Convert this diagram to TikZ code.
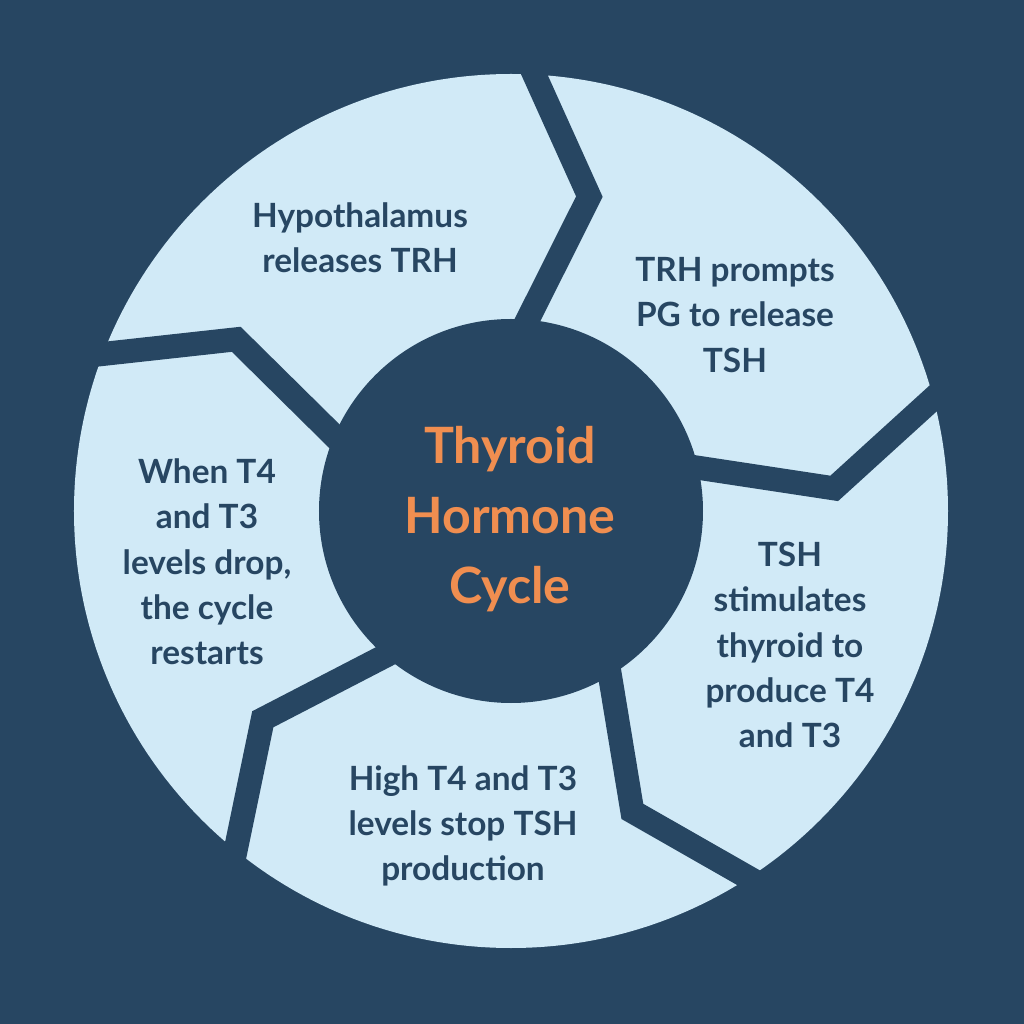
\documentclass[tikz,border=0pt]{standalone}
\usepackage{fontspec}
\setmainfont{Lato}
\definecolor{NavyDark}{RGB}{39,70,98}
\definecolor{SkyLight}{RGB}{209,234,247}
\definecolor{HubOrange}{RGB}{240,142,80}
\usepackage{tikz}

\begin{document}
\begin{tikzpicture}[
        x=0.02cm, y=0.02cm,
        seg/.style={text=NavyDark, align=center, inner sep=0pt,
                    font=\bfseries\fontsize{19}{25.8}\selectfont},
        title/.style={text=HubOrange, align=center, inner sep=0pt,
                      font=\bfseries\fontsize{28.5}{39.8}\selectfont},
        gap/.style={draw=NavyDark, line width=4.8mm, line join=miter}
      ]
        % background and the big disc
        \fill[NavyDark] (-511,-513) rectangle (513,511);
        \fill[SkyLight] (0,0) circle (437);
        % chevron cuts between the five parts
        \foreach \a in {88,16,-56,-128,-200}
          \draw[gap] (\a:170) -- ({\a-12}:324) -- ({\a+1}:470);
        % hub
        \fill[NavyDark] (0,0) circle (192);
        \node[title] (hub) at (-1,-8) {Thyroid\\Hormone\\Cycle};
        % the five steps, clockwise from the top
        \node[seg] (trh)  at (-151,273) {Hypothalamus\\releases TRH};
        \node[seg] (pg)   at (224,196)  {TRH prompts\\PG to release\\TSH};
        \node[seg] (tsh)  at (279,-134) {TSH\\stimulates\\thyroid to\\produce T4\\and T3};
        \node[seg] (high) at (-48,-315) {High T4 and T3\\levels stop TSH\\production};
        \node[seg] (low)  at (-304,-51) {When T4\\and T3\\levels drop,\\the cycle\\restarts};
      \end{tikzpicture}
\end{document}
